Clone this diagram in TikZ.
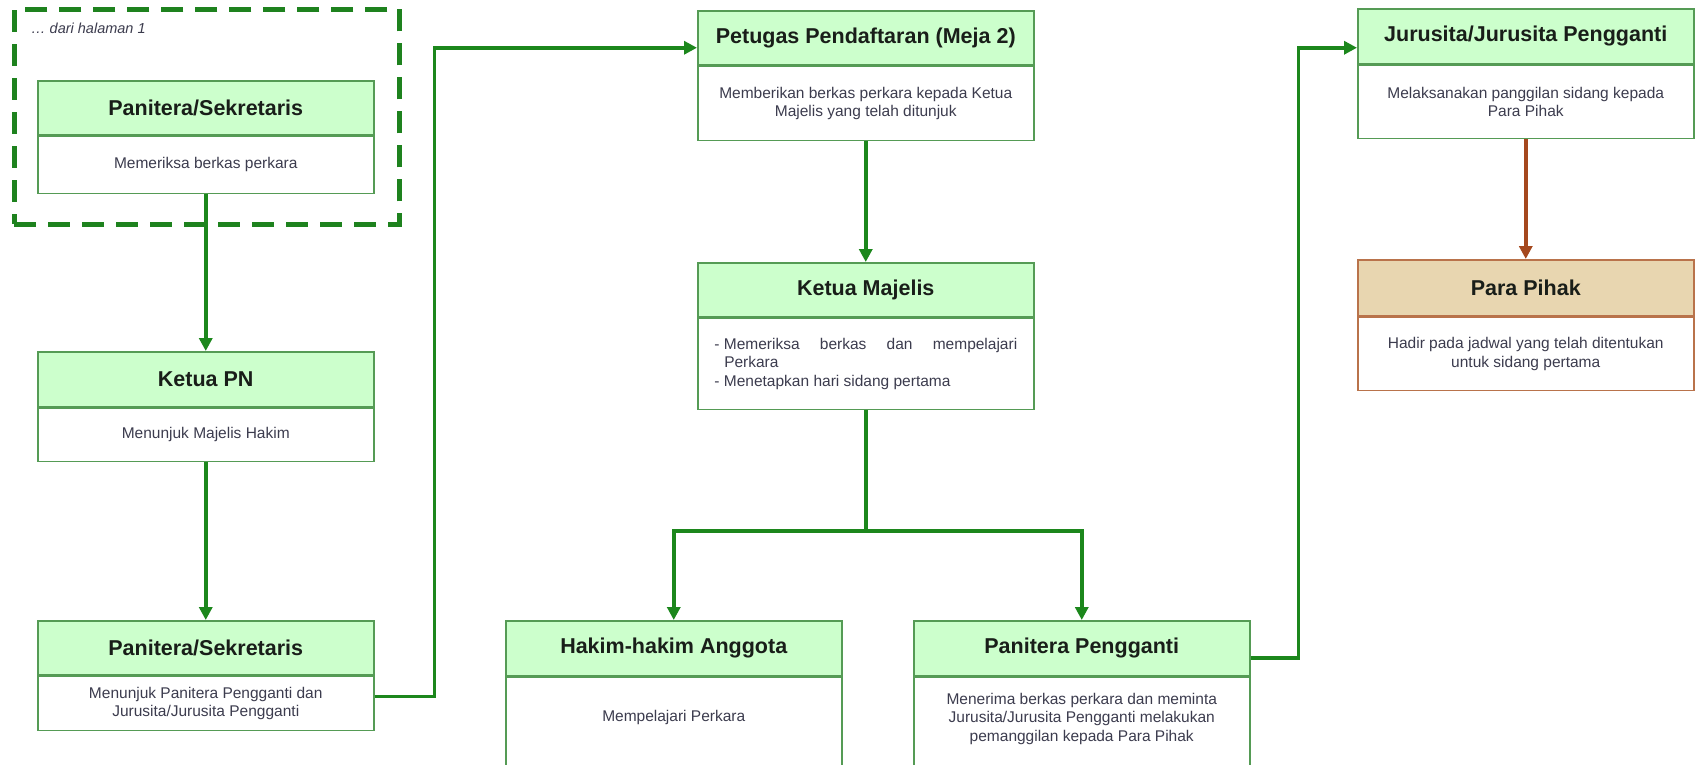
\documentclass[tikz,border=0pt]{standalone}
\usepackage{fontspec}
\setmainfont{Liberation Sans}
\usetikzlibrary{arrows.meta}
\definecolor{linegreen}{RGB}{28,135,28}
\definecolor{boxgreen}{RGB}{85,155,85}
\definecolor{hdrgreen}{RGB}{204,255,204}
\definecolor{dashgreen}{RGB}{30,130,30}
\definecolor{brownline}{RGB}{165,72,30}
\definecolor{brownborder}{RGB}{185,115,75}
\definecolor{tanfill}{RGB}{232,214,176}
\definecolor{textgray}{RGB}{60,60,78}
\definecolor{hdrtext}{RGB}{25,30,25}
\tikzset{
  hdr/.style={draw=boxgreen, line width=1.5pt, fill=hdrgreen, minimum width=336pt,
    minimum height=#1, anchor=north west, inner sep=0pt, text=hdrtext,
    font=\bfseries\fontsize{21.5}{25}\selectfont},
  bodybox/.style={draw=boxgreen, line width=1.5pt, fill=white, minimum width=336pt,
    minimum height=#1, anchor=north, inner sep=0pt, align=center, text=textgray,
    font=\fontsize{15.5}{18.5}\selectfont},
  conn/.style={draw=linegreen, line width=3.5pt, -{Triangle[length=13pt,width=13pt]}},
  connbrown/.style={draw=brownline, line width=3.5pt, -{Triangle[length=13pt,width=13pt]}},
}
\begin{document}
\begin{tikzpicture}[x=1pt,y=-1pt]
\useasboundingbox (0,0) rectangle (1699,764);
\clip (0,0) rectangle (1699,764);
\fill[white] (0,0) rectangle (1699,764);

% dashed frame
\node[draw=dashgreen, line width=4.5pt, dash pattern=on 22pt off 12pt,
  minimum width=385pt, minimum height=215pt, anchor=north west, inner sep=0pt] (src) at (12,7) {};
\node[anchor=west, inner sep=0pt, text=textgray, font=\itshape\fontsize{14.5}{17}\selectfont] (dari) at (31,28) {\dots\ dari halaman 1};

% Panitera/Sekretaris (1)
\node[hdr=54pt] (p1h) at (37,80) {Panitera/Sekretaris};
\node[bodybox=57pt] (p1b) at (p1h.south) {Memeriksa berkas perkara};

% Ketua PN
\node[hdr=55pt] (kpnh) at (37,351) {Ketua PN};
\node[bodybox=53pt] (kpnb) at (kpnh.south) {Menunjuk Majelis Hakim};

% Panitera/Sekretaris (2)
\node[hdr=54pt] (p2h) at (37,620) {Panitera/Sekretaris};
\node[bodybox=54pt] (p2b) at (p2h.south) {Menunjuk Panitera Pengganti dan\\Jurusita/Jurusita Pengganti};

% Petugas Pendaftaran
\node[hdr=54pt] (peth) at (697,10) {Petugas Pendaftaran (Meja 2)};
\node[bodybox=74pt] (petb) at (peth.south) {Memberikan berkas perkara kepada Ketua\\Majelis yang telah ditunjuk};

% Ketua Majelis
\node[hdr=54pt] (kmh) at (697,262) {Ketua Majelis};
\node[bodybox=91pt, align=justify] (kmb) at (kmh.south) {\parbox{303pt}{\hangindent=10pt\hangafter=1
-\hspace{4.5pt}Memeriksa berkas dan mempelajari\linebreak Perkara\par
\hangindent=10pt\hangafter=1 -\hspace{4.5pt}Menetapkan hari sidang pertama}};

% Hakim-hakim Anggota
\node[hdr=55pt] (hakh) at (505,620) {Hakim-hakim Anggota};
\node[bodybox=100pt, text depth=22pt] (hakb) at (hakh.south) {Mempelajari Perkara};

% Panitera Pengganti
\node[hdr=55pt] (pph) at (913,620) {Panitera Pengganti};
\node[bodybox=100pt, text depth=20pt] (ppb) at (pph.south) {Menerima berkas perkara dan meminta\\Jurusita/Jurusita Pengganti melakukan\\pemanggilan kepada Para Pihak};

% Jurusita
\node[hdr=55pt] (jurh) at (1357,8) {Jurusita/Jurusita Pengganti};
\node[bodybox=73pt] (jurb) at (jurh.south) {Melaksanakan panggilan sidang kepada\\Para Pihak};

% Para Pihak
\node[hdr=56pt, draw=brownborder, fill=tanfill] (parh) at (1357,259) {Para Pihak};
\node[bodybox=73pt, draw=brownborder] (parb) at (parh.south) {Hadir pada jadwal yang telah ditentukan\\untuk sidang pertama};

% connectors
\draw[conn] (p1b.south) -- (kpnh.north);
\draw[conn] (kpnb.south) -- (p2h.north);
\draw[conn] ([yshift=7pt]p2b.east) -- ++(60,0) |- ([yshift=-10pt]peth.west);
\draw[conn] (petb.south) -- (kmh.north);
\coordinate (split) at (kmb.south |- 0,531);
\draw[conn] (kmb.south) -- (split) -| (hakh.north);
\draw[conn] (split) -| (pph.north);
\draw[conn] ([yshift=-9.5pt]pph.east) -- ++(48,0) |- ([yshift=-11.5pt]jurh.west);
\draw[connbrown] (jurb.south) -- (parh.north);
\end{tikzpicture}
\end{document}
